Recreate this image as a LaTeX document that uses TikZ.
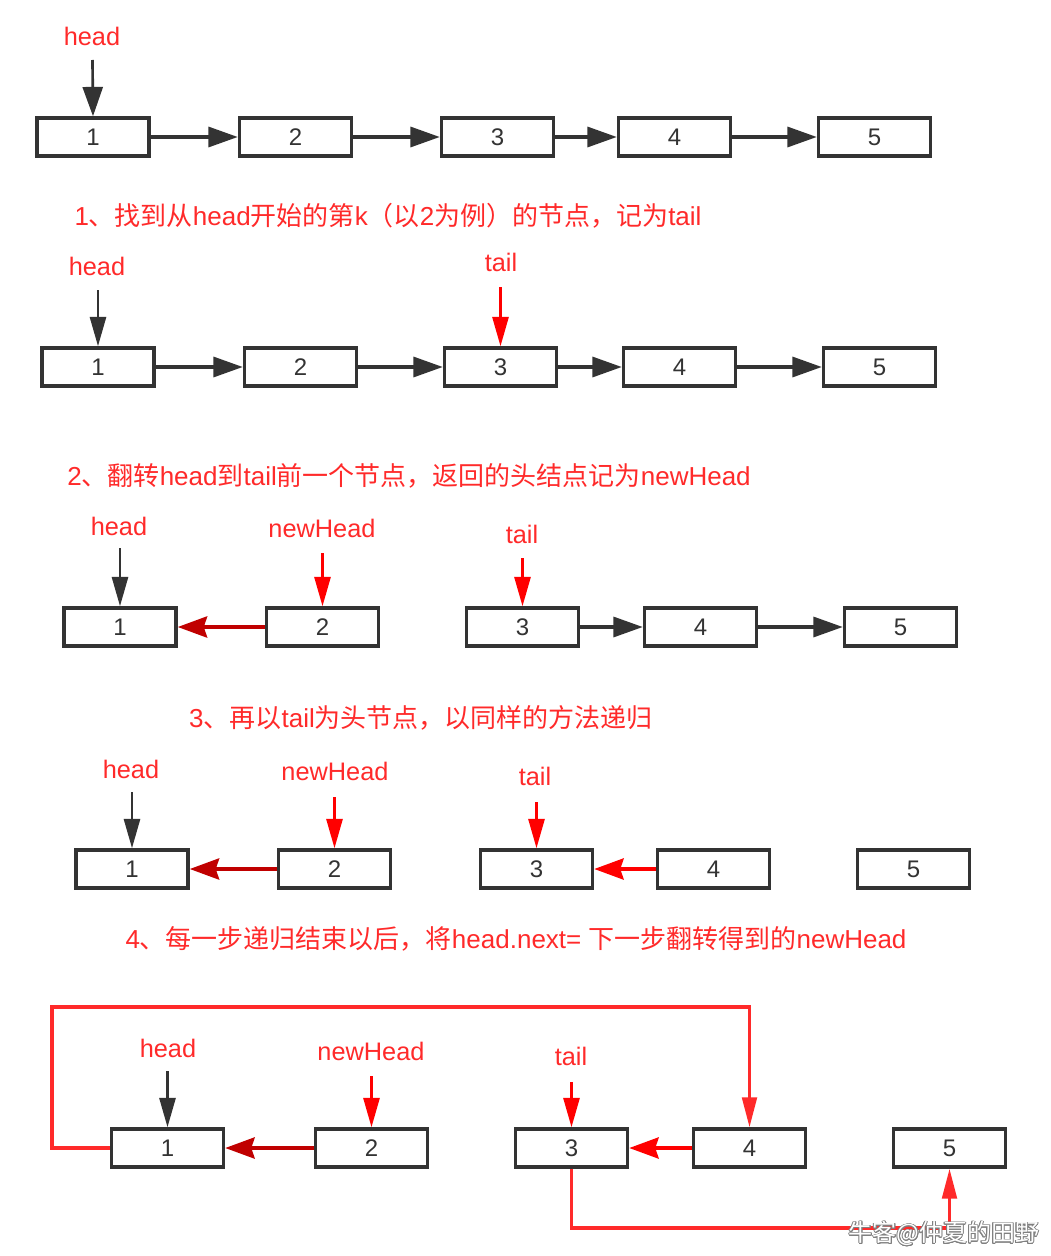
\documentclass[tikz,border=0pt]{standalone}
\usepackage{fontspec}
\setmainfont{Liberation Sans}
\newfontfamily\cjk{Noto Sans CJK SC}
\usepackage{contour}
\usetikzlibrary{arrows.meta}
\newcommand\zh[1]{{\cjk #1}}
\definecolor{lred}{HTML}{FF2A2A}
\definecolor{pred}{HTML}{FF0000}
\definecolor{dred}{HTML}{C00000}
\definecolor{ink}{HTML}{333333}
\tikzset{
  box/.style={draw=ink, line width=2.6pt, fill=white, minimum width=84pt, minimum height=28.5pt, inner sep=0pt, text=ink, font=\fontsize{18}{18}\selectfont},
  lbl/.style={text=lred, inner sep=0pt, font=\fontsize{19}{19}\selectfont},
  ttl/.style={text=lred, inner sep=0pt, font=\fontsize{19.5}{20}\selectfont},
  nxt/.style={draw=ink, line width=2.4pt, -{Triangle[length=22pt,width=15pt]}},
  ptrk/.style={draw=ink, line width=2pt, -{Triangle[length=22pt,width=12pt]}},
  ptrr/.style={draw=pred, line width=2pt, -{Triangle[length=22pt,width=12pt]}},
  revd/.style={draw=dred, line width=3pt, -{Stealth[length=22pt,width=15.75pt,inset=2.5pt]}},
  revr/.style={draw=pred, line width=3pt, -{Stealth[length=22pt,width=15.75pt,inset=2.5pt]}},
  link/.style={draw=lred, line width=2.4pt, -{Triangle[length=22.5pt,width=11pt]}},
}
\begin{document}
\begin{tikzpicture}[x=0.75pt,y=-0.75pt]
\useasboundingbox[fill=white] (0,0) rectangle (1050,1256);

% ---------- row 1 ----------
\node[lbl] (h1) at (92,36) {head};
\coordinate (h1s) at (92.5,60);
\node[box] (a1) at (93,137) {1};
\node[box] (a2) at (295.5,137) {2};
\node[box] (a3) at (497.5,137) {3};
\node[box] (a4) at (674.5,137) {4};
\node[box] (a5) at (874.5,137) {5};
\draw[ptrk, -{Triangle[length=22pt,width=15pt]}] (h1s) -- (a1.north);
\draw[nxt] (a1) -- (a2);
\draw[nxt] (a2) -- (a3);
\draw[nxt] (a3) -- (a4);
\draw[nxt] (a4) -- (a5);

% ---------- row 2 ----------
\node[ttl] (t1) at (388,216) {1\zh{、找到从}head\zh{开始的第}k\zh{（以}2\zh{为例）的节点，记为}tail};
\node[lbl] (h2) at (97,266) {head};
\node[lbl] (l2) at (501,262) {tail};
\coordinate (h2s) at (98,290);
\coordinate (l2s) at (500.5,287);
\node[box] (b1) at (98,367) {1};
\node[box] (b2) at (300.5,367) {2};
\node[box] (b3) at (500.5,367) {3};
\node[box] (b4) at (679.5,367) {4};
\node[box] (b5) at (879.5,367) {5};
\draw[ptrk] (h2s) -- (b1.north);
\draw[ptrr] (l2s) -- (b3.north);
\draw[nxt] (b1) -- (b2);
\draw[nxt] (b2) -- (b3);
\draw[nxt] (b3) -- (b4);
\draw[nxt] (b4) -- (b5);

% ---------- row 3 ----------
\node[ttl] (t2) at (409,476) {2\zh{、翻转}head\zh{到}tail\zh{前一个节点，返回的头结点记为}newHead};
\node[lbl] (h3) at (119,526) {head};
\node[lbl] (n3) at (322,528) {newHead};
\node[lbl] (l3) at (522,534) {tail};
\coordinate (h3s) at (120,548);
\coordinate (n3s) at (322.5,553);
\coordinate (l3s) at (522.5,558);
\node[box] (c1) at (120,627) {1};
\node[box] (c2) at (322.5,627) {2};
\node[box] (c3) at (522.5,627) {3};
\node[box] (c4) at (700.5,627) {4};
\node[box] (c5) at (900.5,627) {5};
\draw[ptrk] (h3s) -- (c1.north);
\draw[ptrr] (n3s) -- (c2.north);
\draw[ptrr] (l3s) -- (c3.north);
\draw[revd] (c2) -- (c1);
\draw[nxt] (c3) -- (c4);
\draw[nxt] (c4) -- (c5);

% ---------- row 4 ----------
\node[ttl] (t3) at (421,718) {3\zh{、再以}tail\zh{为头节点，以同样的方法递归}};
\node[lbl] (h4) at (131,769) {head};
\node[lbl] (n4) at (335,771) {newHead};
\node[lbl] (l4) at (535,776) {tail};
\coordinate (h4s) at (132,792);
\coordinate (n4s) at (334.5,797);
\coordinate (l4s) at (536.5,802);
\node[box] (d1) at (132,869) {1};
\node[box] (d2) at (334.5,869) {2};
\node[box] (d3) at (536.5,869) {3};
\node[box] (d4) at (713.5,869) {4};
\node[box] (d5) at (913.5,869) {5};
\draw[ptrk] (h4s) -- (d1.north);
\draw[ptrr] (n4s) -- (d2.north);
\draw[ptrr] (l4s) -- (d3.north);
\draw[revd] (d2) -- (d1);
\draw[revr] (d4) -- (d3);

% ---------- row 5 ----------
\node[ttl] (t4) at (516,939) {4\zh{、每一步递归结束以后，将}head.next= \zh{下一步翻转得到的}newHead};
\node[lbl] (h5) at (168,1048) {head};
\node[lbl] (n5) at (371,1051) {newHead};
\node[lbl] (l5) at (571,1056) {tail};
\coordinate (h5s) at (167.5,1071);
\coordinate (n5s) at (371.5,1076);
\coordinate (l5s) at (571.5,1082);
\node[box] (e1) at (167.5,1148) {1};
\node[box] (e2) at (371.5,1148) {2};
\node[box] (e3) at (571.5,1148) {3};
\node[box] (e4) at (749.5,1148) {4};
\node[box] (e5) at (949.5,1148) {5};
\coordinate (k1) at (52,1007);
\coordinate (k2) at (800,1228);
\draw[link] (e1.west) -| (k1) -| (e4.north);
\draw[link] (e3.south) |- (k2) -| (e5.south);
\draw[ptrk] (h5s) -- (e1.north);
\draw[ptrr] (n5s) -- (e2.north);
\draw[ptrr] (l5s) -- (e3.north);
\draw[revd] (e2) -- (e1);
\draw[revr] (e4) -- (e3);

% watermark
\contourlength{0.5pt}
\node[inner sep=0pt, font=\cjk\fontsize{18}{18}\selectfont] (wm) at (944,1234) {\contour{gray}{\textcolor{white}{牛客@仲夏的田野}}};
\end{tikzpicture}
\end{document}
